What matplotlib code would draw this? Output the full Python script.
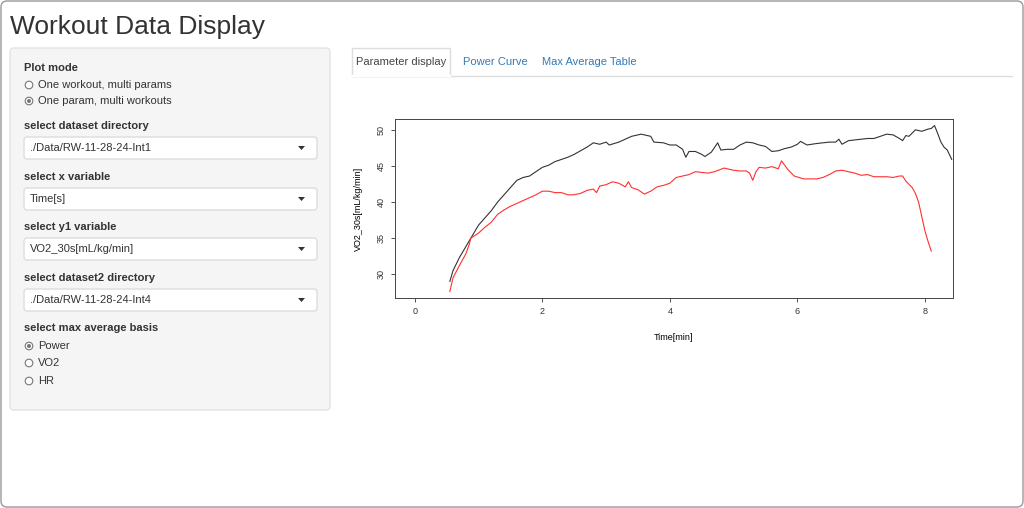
import matplotlib
matplotlib.use("Agg")
import matplotlib.pyplot as plt
from matplotlib.patches import Rectangle, FancyBboxPatch, Circle, Polygon

plt.rcParams['font.family'] = ['Liberation Sans', 'DejaVu Sans']

# Data (time in min, VO2_30s in mL/kg/min)
t1 = [0.55,0.6,0.7,0.8,0.9,1.0,1.1,1.2,1.3,1.4,1.5,1.6,1.7,1.8,1.9,2.0,2.1,2.2,2.3,2.4,2.5,2.6,2.7,2.8,2.9,3.0,3.05,3.2,3.3,3.4,3.5,3.55,3.7,3.75,3.9,4.0,4.1,4.2,4.25,4.3,4.4,4.5,4.55,4.65,4.75,4.8,4.9,5.0,5.1,5.2,5.3,5.4,5.5,5.6,5.7,5.8,5.9,6.0,6.05,6.15,6.3,6.5,6.6,6.65,6.7,6.8,7.0,7.1,7.2,7.3,7.4,7.5,7.6,7.65,7.7,7.75,7.85,7.95,8.05,8.1,8.15,8.2,8.25,8.3,8.35,8.42]
vo2_1 = [29,30.5,32.3,33.8,35.3,36.8,37.8,38.8,40,41,42,43,43.4,43.6,44.2,44.8,45.1,45.6,45.9,46.2,46.6,47.1,47.6,48.2,48.0,48.3,47.9,48.3,48.7,49.1,49.3,49.4,49.1,48.3,48.2,47.9,47.9,47.3,46.2,47.0,47.0,46.6,46.3,46.9,48.2,47.2,47.3,47.3,47.9,48.3,48.2,47.9,47.7,47.0,47.1,47.4,47.6,48.0,48.4,47.9,48.1,48.3,48.3,48.7,48.0,48.5,48.7,48.8,48.8,49.1,49.4,49.3,48.8,48.5,49.2,49.1,50.0,49.8,50.1,50.2,50.6,49.5,48.3,47.6,47.2,45.9]
t2 = [0.55,0.6,0.7,0.8,0.85,0.88,1.0,1.1,1.2,1.3,1.4,1.5,1.6,1.7,1.8,1.9,2.0,2.1,2.2,2.3,2.4,2.5,2.6,2.7,2.8,2.85,2.9,3.0,3.1,3.2,3.3,3.35,3.4,3.5,3.6,3.7,3.8,3.9,4.0,4.1,4.2,4.3,4.4,4.5,4.6,4.7,4.85,5.0,5.1,5.2,5.25,5.3,5.35,5.4,5.5,5.6,5.7,5.75,5.85,5.95,6.1,6.3,6.4,6.5,6.6,6.7,6.8,6.9,7.0,7.1,7.2,7.3,7.4,7.5,7.6,7.65,7.7,7.8,7.85,7.9,7.95,8.0,8.05,8.1]
vo2_2 = [27.6,29.5,31.2,32.8,34,35,35.7,36.5,37.2,38.3,38.9,39.4,39.8,40.2,40.6,41.0,41.5,41.5,41.3,41.3,41.0,41.0,41.2,41.6,41.8,41.3,42.2,42.4,42.8,42.6,42.1,42.8,42.0,41.7,41.1,41.5,42.1,42.3,42.6,43.4,43.6,43.8,44.2,44.1,44.0,44.2,44.7,44.4,44.3,44.3,44.0,43.0,44.2,44.8,44.7,44.9,44.6,45.7,44.5,43.6,43.2,43.2,43.4,43.8,44.3,44.4,44.2,44.0,43.7,43.8,43.5,43.5,43.5,43.4,43.6,43.6,42.9,42.0,41.2,40.0,38.0,36.0,34.5,33.2]
xticks = [0, 2, 4, 6, 8]
yticks = [30, 35, 40, 45, 50]

W, H = 1024, 508
fig = plt.figure(figsize=(W/100, H/100), dpi=100)
ui = fig.add_axes([0, 0, 1, 1])
ui.set_xlim(0, W); ui.set_ylim(H, 0); ui.axis('off')

ui.add_patch(FancyBboxPatch((1, 1), W-2, H-2, boxstyle="round,pad=0,rounding_size=6",
                            fill=False, ec='#999999', lw=1))
ui.text(10, 27, "Workout Data Display", fontsize=19, va='center', color='#333333')

# sidebar
ui.add_patch(FancyBboxPatch((10, 48), 320, 362, boxstyle="round,pad=0,rounding_size=4",
                            fc='#f5f5f5', ec='#e3e3e3', lw=1))
fs = 8
def label(y, s):
    ui.text(24, y, s, fontsize=fs, fontweight='bold', va='center', color='#333333')
def radio(y, s, sel):
    ui.add_patch(Circle((29, y), 3.8, fc='white', ec='#777777', lw=0.8))
    if sel:
        ui.add_patch(Circle((29, y), 2.0, fc='#777777', ec='none'))
    ui.text(38, y, s, fontsize=fs, va='center', color='#333333')
def select(y0, s):
    ui.add_patch(FancyBboxPatch((24, y0), 293, 22, boxstyle="round,pad=0,rounding_size=3",
                                fc='white', ec='#dddddd', lw=1))
    ui.text(30, y0+11, s, fontsize=fs, va='center', color='#333333')
    ui.add_patch(Polygon([(298, y0+9), (305, y0+9), (301.5, y0+13)], fc='#333333', ec='none'))

label(68, "Plot mode")
radio(85, "One workout, multi params", False)
radio(101, "One param, multi workouts", True)
label(126, "select dataset directory"); select(137, "./Data/RW-11-28-24-Int1")
label(177, "select x variable"); select(188, "Time[s]")
label(227, "select y1 variable"); select(238, "VO2_30s[mL/kg/min]")
label(278, "select dataset2 directory"); select(289, "./Data/RW-11-28-24-Int4")
label(328, "select max average basis")
radio(346, "Power", True); radio(363, "VO2", False); radio(381, "HR", False)

# tabs
ui.plot([352, 1012], [76, 76], color='#dddddd', lw=1)
ui.add_patch(Rectangle((352, 48), 98, 28, fc='white', ec='#dddddd', lw=1))
ui.plot([352.5, 449.5], [76, 76], color='white', lw=1.5)
ui.text(401, 62, "Parameter display", fontsize=fs, ha='center', va='center', color='#444444')
ui.text(463, 62, "Power Curve", fontsize=fs, va='center', color='#337ab7')
ui.text(542, 62, "Max Average Table", fontsize=fs, va='center', color='#337ab7')

# plot
x0, x1, y0, y1 = 395, 953, 119, 298
ax = fig.add_axes([x0/W, 1-y1/H, (x1-x0)/W, (y1-y0)/H])
ax.plot(t1, vo2_1, color='#333333', lw=0.8)
ax.plot(t2, vo2_2, color='#ff3030', lw=0.8)
ax.set_xlim(-0.31, 8.44); ax.set_ylim(26.7, 51.5)
ax.set_xticks(xticks); ax.set_yticks(yticks)
ax.tick_params(labelsize=6.5, length=3, width=0.6, colors='#333333')
for lab in ax.get_yticklabels():
    lab.set_rotation(90); lab.set_va('center')
for s in ax.spines.values():
    s.set_linewidth(0.7); s.set_color('#444444')
ax.set_xlabel("Time[min]", fontsize=6.5, labelpad=12)
ax.set_ylabel("VO2_30s[mL/kg/min]", fontsize=6.5, labelpad=10)

fig.savefig("out.png", dpi=100)
